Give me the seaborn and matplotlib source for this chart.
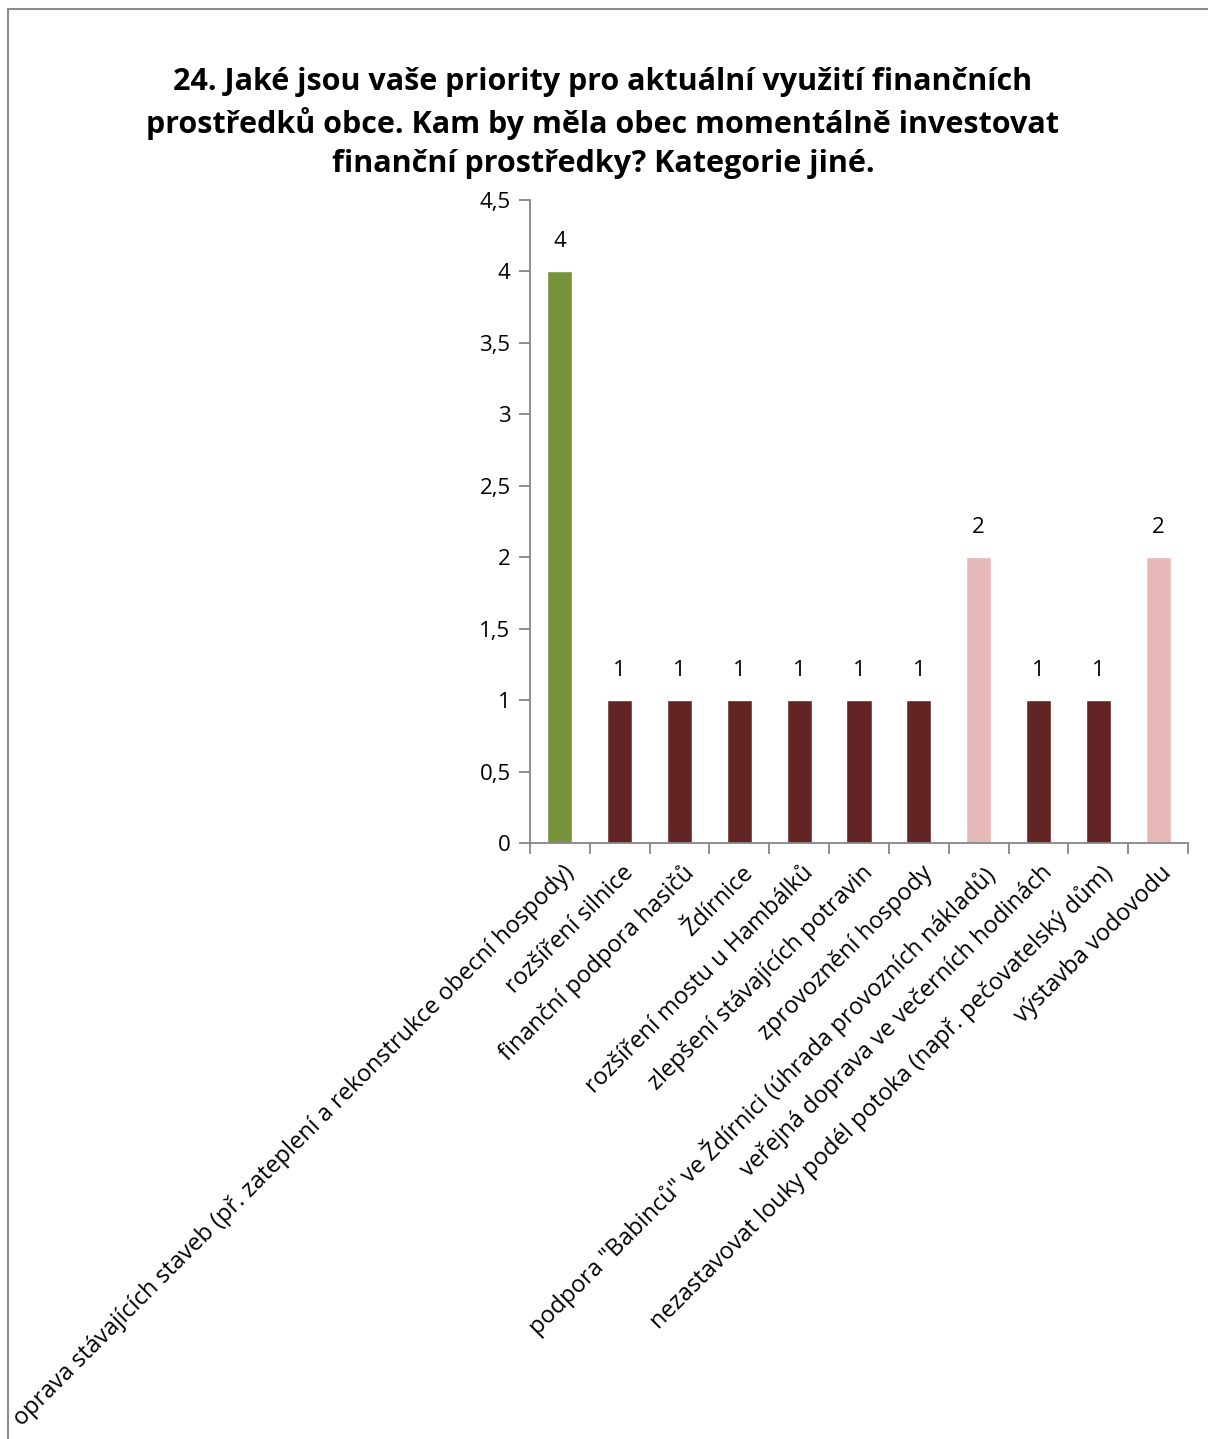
import matplotlib
matplotlib.use("Agg")
import matplotlib.pyplot as plt
import seaborn as sns
import pandas as pd
from matplotlib.lines import Line2D
from matplotlib.ticker import FixedLocator, FuncFormatter

categories = [
    'oprava stávajících staveb (př. zateplení a rekonstrukce obecní hospody)',
    'rozšíření silnice',
    'finanční podpora hasičů',
    'Ždírnice',
    'rozšíření mostu u Hambálků',
    'zlepšení stávajících potravin',
    'zprovoznění hospody',
    'podpora "Babinců" ve Ždírnici (úhrada provozních nákladů)',
    'veřejná doprava ve večerních hodinách',
    'nezastavovat louky podél potoka (např. pečovatelský dům)',
    'výstavba vodovodu',
]
counts = [4, 1, 1, 1, 1, 1, 1, 2, 1, 1, 2]
bar_colors = ['#77933C', '#632523', '#632523', '#632523', '#632523', '#632523',
              '#632523', '#E6B9B8', '#632523', '#632523', '#E6B9B8']
title = ('24. Jaké jsou vaše priority pro aktuální využití finančních\n'
         'prostředků obce. Kam by měla obec momentálně investovat\n'
         'finanční prostředky? Kategorie jiné.')

sns.set_style('white')
plt.rcParams['font.family'] = ['Open Sans', 'DejaVu Sans']
plt.rcParams['text.color'] = 'black'
plt.rcParams['xtick.labelcolor'] = 'black'
plt.rcParams['ytick.labelcolor'] = 'black'

df = pd.DataFrame({'kategorie': categories, 'pocet': counts})

fig = plt.figure(figsize=(12.08, 14.39), dpi=100)
ax = fig.add_axes([530 / 1208, 1 - 843 / 1439, 658 / 1208, 643 / 1439])

sns.barplot(data=df, x='kategorie', y='pocet', hue='kategorie',
            palette=bar_colors, width=0.42, legend=False, ax=ax, saturation=1)

ax.set_xlim(-0.5, len(categories) - 0.5)
ax.set_ylim(0, 4.5)
ax.set_xlabel('')
ax.set_ylabel('')

axis_col = '#868686'
for s in ['top', 'right']:
    ax.spines[s].set_visible(False)
for s in ['left', 'bottom']:
    ax.spines[s].set_color(axis_col)
    ax.spines[s].set_linewidth(1.3)

ax.yaxis.set_major_locator(FixedLocator([i * 0.5 for i in range(10)]))
ax.yaxis.set_major_formatter(FuncFormatter(lambda v, p: f'{v:g}'.replace('.', ',')))
ax.tick_params(axis='y', direction='out', length=8, width=1.3, color=axis_col,
               labelsize=16, pad=6, left=True)

# category ticks between bars, labels centred on bars
ax.set_xticks([i + 0.5 for i in range(-1, len(categories))], minor=False)
ax.set_xticklabels([])
ax.set_xticks(range(len(categories)), minor=True)
ax.set_xticklabels(categories, minor=True, rotation=45, ha='right',
                   rotation_mode='anchor', fontsize=17)
ax.tick_params(axis='x', which='major', direction='out', length=8, width=1.3,
               color=axis_col, bottom=True)
ax.tick_params(axis='x', which='minor', length=0, pad=13)
for lbl in ax.get_xticklabels(minor=True):
    lbl.set_transform(lbl.get_transform() + matplotlib.transforms.ScaledTranslation(0.02, 0, fig.dpi_scale_trans))

for c in ax.containers:
    ax.bar_label(c, labels=[f'{v:g}' for v in c.datavalues], padding=14, fontsize=16)

fig.text(603 / 1208, 1 - 123 / 1439, title, ha='center', va='center',
         fontsize=22, fontweight='bold', linespacing=1.4)

# chart frame (top and left edges visible)
fig.add_artist(Line2D([8 / 1208, 8 / 1208], [0, 1 - 9 / 1439], color='#8c8c8c', lw=1.5))
fig.add_artist(Line2D([8 / 1208, 1], [1 - 9 / 1439, 1 - 9 / 1439], color='#8c8c8c', lw=1.5))

fig.savefig('out.png', dpi=100)
